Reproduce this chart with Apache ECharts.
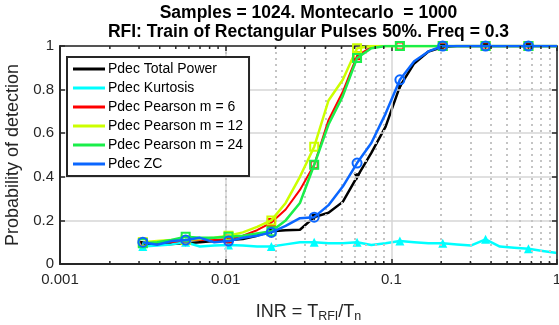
<!DOCTYPE html>
<html>
<head>
<meta charset="utf-8">
<script src="https://cdn.jsdelivr.net/npm/echarts@6/dist/echarts.min.js"></script>
<style>
  html, body { margin: 0; padding: 0; background: #ffffff; }
  #chart { width: 559px; height: 325px; }
</style>
</head>
<body>
<div id="chart"></div>
<script>
// Interference-to-noise ratio (log-spaced, 30 points)
const inr = [0.003162, 0.003856, 0.004702, 0.005734, 0.006994, 0.008532, 0.010405, 0.01269, 0.015476, 0.018874,
             0.023019, 0.028072, 0.034236, 0.041753, 0.050921, 0.062102, 0.075737, 0.092364, 0.11264, 0.13738,
             0.16754, 0.20433, 0.24919, 0.30391, 0.37063, 0.452, 0.55125, 0.67227, 0.81991, 1];

// Probability of detection per detector
const pdTotalPower = [0.09, 0.09, 0.092, 0.095, 0.10, 0.105, 0.11, 0.115, 0.13, 0.15,
                      0.155, 0.157, 0.215, 0.235, 0.285, 0.40, 0.51, 0.63, 0.815, 0.92,
                      0.975, 0.995, 1, 1, 1, 1, 1, 1, 1, 1];
const pdKurtosis   = [0.08, 0.085, 0.09, 0.10, 0.08, 0.085, 0.087, 0.085, 0.08, 0.08,
                      0.09, 0.10, 0.10, 0.095, 0.095, 0.10, 0.087, 0.095, 0.105, 0.10,
                      0.095, 0.095, 0.09, 0.085, 0.113, 0.08, 0.075, 0.07, 0.06, 0.05];
const pdPearson6   = [0.10, 0.10, 0.10, 0.11, 0.11, 0.11, 0.115, 0.13, 0.155, 0.19,
                      0.25, 0.34, 0.455, 0.66, 0.79, 0.955, 0.995, 1, 1, 1,
                      1, 1, 1, 1, 1, 1, 1, 1, 1, 1];
const pdPearson12  = [0.10, 0.105, 0.11, 0.11, 0.115, 0.12, 0.13, 0.145, 0.17, 0.20,
                      0.28, 0.40, 0.538, 0.75, 0.845, 0.99, 1, 1, 1, 1,
                      1, 1, 1, 1, 1, 1, 1, 1, 1, 1];
const pdPearson24  = [0.095, 0.10, 0.11, 0.125, 0.12, 0.12, 0.125, 0.13, 0.14, 0.15,
                      0.20, 0.28, 0.455, 0.64, 0.77, 0.945, 0.99, 1, 1, 1,
                      1, 1, 1, 1, 1, 1, 1, 1, 1, 1];
const pdZC         = [0.10, 0.088, 0.105, 0.11, 0.12, 0.10, 0.105, 0.12, 0.13, 0.145,
                      0.175, 0.21, 0.215, 0.27, 0.355, 0.463, 0.555, 0.69, 0.845, 0.93,
                      0.975, 1, 1, 1, 1, 1, 1, 1, 1, 1];

const xMinorValues = [0.002, 0.003, 0.004, 0.005, 0.006, 0.007, 0.008, 0.009,
                      0.02, 0.03, 0.04, 0.05, 0.06, 0.07, 0.08, 0.09,
                      0.2, 0.3, 0.4, 0.5, 0.6, 0.7, 0.8, 0.9];

const FONT = '"Liberation Sans", Arial, Helvetica, sans-serif';
const AXIS_COLOR = '#262626';

const seriesDefs = [
  { name: 'Pdec Total Power',   data: pdTotalPower, color: '#000000', symbol: 'triangle', rotate: 180, size: 7, open: false, width: 2.5 },
  { name: 'Pdec Kurtosis',      data: pdKurtosis,   color: '#00ffff', symbol: 'triangle', rotate: 0,   size: 9, open: false, width: 2.5 },
  { name: 'Pdec Pearson m = 6', data: pdPearson6,   color: '#ff0000', symbol: 'rect',     rotate: 0,   size: 7, open: true,  width: 2 },
  { name: 'Pdec Pearson m = 12',data: pdPearson12,  color: '#ccff00', symbol: 'rect',     rotate: 0,   size: 8, open: true,  width: 2.5 },
  { name: 'Pdec Pearson m = 24',data: pdPearson24,  color: '#1aee4a', symbol: 'rect',     rotate: 0,   size: 8, open: true,  width: 2.5 },
  { name: 'Pdec ZC',            data: pdZC,         color: '#0a66ff', symbol: 'circle',   rotate: 0,   size: 9, open: true,  width: 2.5 }
];

const chart = echarts.init(document.getElementById('chart'), null, { renderer: 'canvas' });

const lineSeries = seriesDefs.map((d, i) => ({
  name: d.name,
  type: 'line',
  xAxisIndex: 0,
  yAxisIndex: 0,
  data: inr.map((x, k) => [x, d.data[k]]),
  showAllSymbol: true,
  symbol: (val, params) => (params.dataIndex % 3 === 0 ? d.symbol : 'none'),
  symbolSize: d.size,
  symbolRotate: d.rotate,
  lineStyle: { color: d.color, width: d.width },
  itemStyle: {
    color: d.open ? 'rgba(255,255,255,0)' : d.color,
    borderColor: d.color,
    borderWidth: d.open ? 2 : 0
  },
  z: 3 + i,
  animation: false,
  emphasis: { disabled: true }
}));

// dotted minor grid on the log axis
const minorGrid = {
  type: 'line',
  data: [],
  silent: true,
  z: 1,
  markLine: {
    silent: true,
    symbol: 'none',
    animation: false,
    label: { show: false },
    lineStyle: { color: '#c4c4c4', width: 2, type: [2, 4] },
    emphasis: { disabled: true },
    data: xMinorValues.map(v => ({ xAxis: v }))
  }
};

// short inward minor ticks on bottom and top edges
const minorTicks = {
  type: 'custom',
  silent: true,
  z: 10,
  data: xMinorValues.map(v => [v]),
  renderItem: (params, api) => {
    const x = api.value(0);
    const b = api.coord([x, 0]);
    const t = api.coord([x, 1]);
    return {
      type: 'group',
      children: [
        { type: 'line', shape: { x1: b[0], y1: b[1], x2: b[0], y2: b[1] - 3 }, style: { stroke: AXIS_COLOR, lineWidth: 1.5 } },
        { type: 'line', shape: { x1: t[0], y1: t[1], x2: t[0], y2: t[1] + 3 }, style: { stroke: AXIS_COLOR, lineWidth: 1.5 } }
      ]
    };
  },
  animation: false
};

const option = {
  backgroundColor: '#ffffff',
  animation: false,
  textStyle: { fontFamily: FONT },
  grid: { left: 60, right: 2, top: 46, bottom: 61, containLabel: false, outerBoundsMode: 'none' },
  graphic: [
    { type: 'text', x: 308.5, y: 13, z: 20,
      style: { text: 'Samples = 1024. Montecarlo  = 1000', font: 'bold 17.5px ' + FONT, fill: '#000', align: 'center', verticalAlign: 'middle' } },
    { type: 'text', x: 308.5, y: 32, z: 20,
      style: { text: 'RFI: Train of Rectangular Pulses 50%. Freq = 0.3', font: 'bold 17.5px ' + FONT, fill: '#000', align: 'center', verticalAlign: 'middle' } }
  ],
  legend: {
    orient: 'vertical',
    left: 67,
    top: 57,
    padding: [5, 6, 5, 6],
    itemGap: 5,
    itemWidth: 32,
    itemHeight: 3,
    icon: 'rect',
    selectedMode: false,
    backgroundColor: '#ffffff',
    borderColor: AXIS_COLOR,
    borderWidth: 2,
    borderRadius: 0,
    textStyle: { fontSize: 14, color: '#000', fontFamily: FONT, padding: [0, 0, 0, -2] },
    data: seriesDefs.map(d => ({ name: d.name, itemStyle: { color: d.color, borderWidth: 0 } })),
    z: 30
  },
  xAxis: [
    {
      type: 'log', logBase: 10, min: 0.001, max: 1,
      name: '{m|INR = T}{s|RFI}{m|/T}{s|n}',
      nameLocation: 'middle',
      nameGap: 29,
      nameTextStyle: {
        rich: {
          m: { fontSize: 18, color: AXIS_COLOR, fontFamily: FONT, lineHeight: 20, verticalAlign: 'top' },
          s: { fontSize: 12.5, color: AXIS_COLOR, fontFamily: FONT, lineHeight: 13, verticalAlign: 'bottom', padding: [18, 0, 0, 0] }
        }
      },
      axisLine: { show: true, onZero: false, lineStyle: { color: AXIS_COLOR, width: 2 } },
      axisTick: { show: true, inside: true, length: 5, lineStyle: { color: AXIS_COLOR, width: 1.5 } },
      axisLabel: { show: true, margin: 8, fontSize: 15, color: AXIS_COLOR, fontFamily: FONT,
                   formatter: v => String(v), showMinLabel: true, showMaxLabel: true, hideOverlap: false },
      splitLine: { show: true, lineStyle: { color: '#d6d6d6', width: 1.5 } },
      minorTick: { show: false },
      z: 5
    },
    {
      type: 'log', logBase: 10, min: 0.001, max: 1, position: 'top',
      axisLine: { show: true, onZero: false, lineStyle: { color: AXIS_COLOR, width: 1.5 } },
      axisTick: { show: true, inside: true, length: 5, lineStyle: { color: AXIS_COLOR, width: 1.5 } },
      axisLabel: { show: false },
      splitLine: { show: false },
      z: 5
    }
  ],
  yAxis: [
    {
      type: 'value', min: 0, max: 1, interval: 0.2,
      name: 'Probability of detection',
      nameLocation: 'middle',
      nameGap: 26,
      nameTextStyle: { fontSize: 18, color: AXIS_COLOR, fontFamily: FONT },
      axisLine: { show: true, onZero: false, lineStyle: { color: AXIS_COLOR, width: 2 } },
      axisTick: { show: true, inside: true, length: 5, lineStyle: { color: AXIS_COLOR, width: 1.5 } },
      axisLabel: { show: true, margin: 6, fontSize: 15, color: AXIS_COLOR, fontFamily: FONT,
                   formatter: v => String(Math.round(v * 10) / 10) },
      splitLine: { show: true, lineStyle: { color: '#d6d6d6', width: 1.5 } },
      z: 5
    },
    {
      type: 'value', min: 0, max: 1, interval: 0.2, position: 'right',
      axisLine: { show: true, onZero: false, lineStyle: { color: AXIS_COLOR, width: 1.5 } },
      axisTick: { show: true, inside: true, length: 5, lineStyle: { color: AXIS_COLOR, width: 1.5 } },
      axisLabel: { show: false },
      splitLine: { show: false },
      z: 5
    }
  ],
  series: [minorGrid, minorTicks].concat(lineSeries)
};

chart.setOption(option);
</script>
</body>
</html>
